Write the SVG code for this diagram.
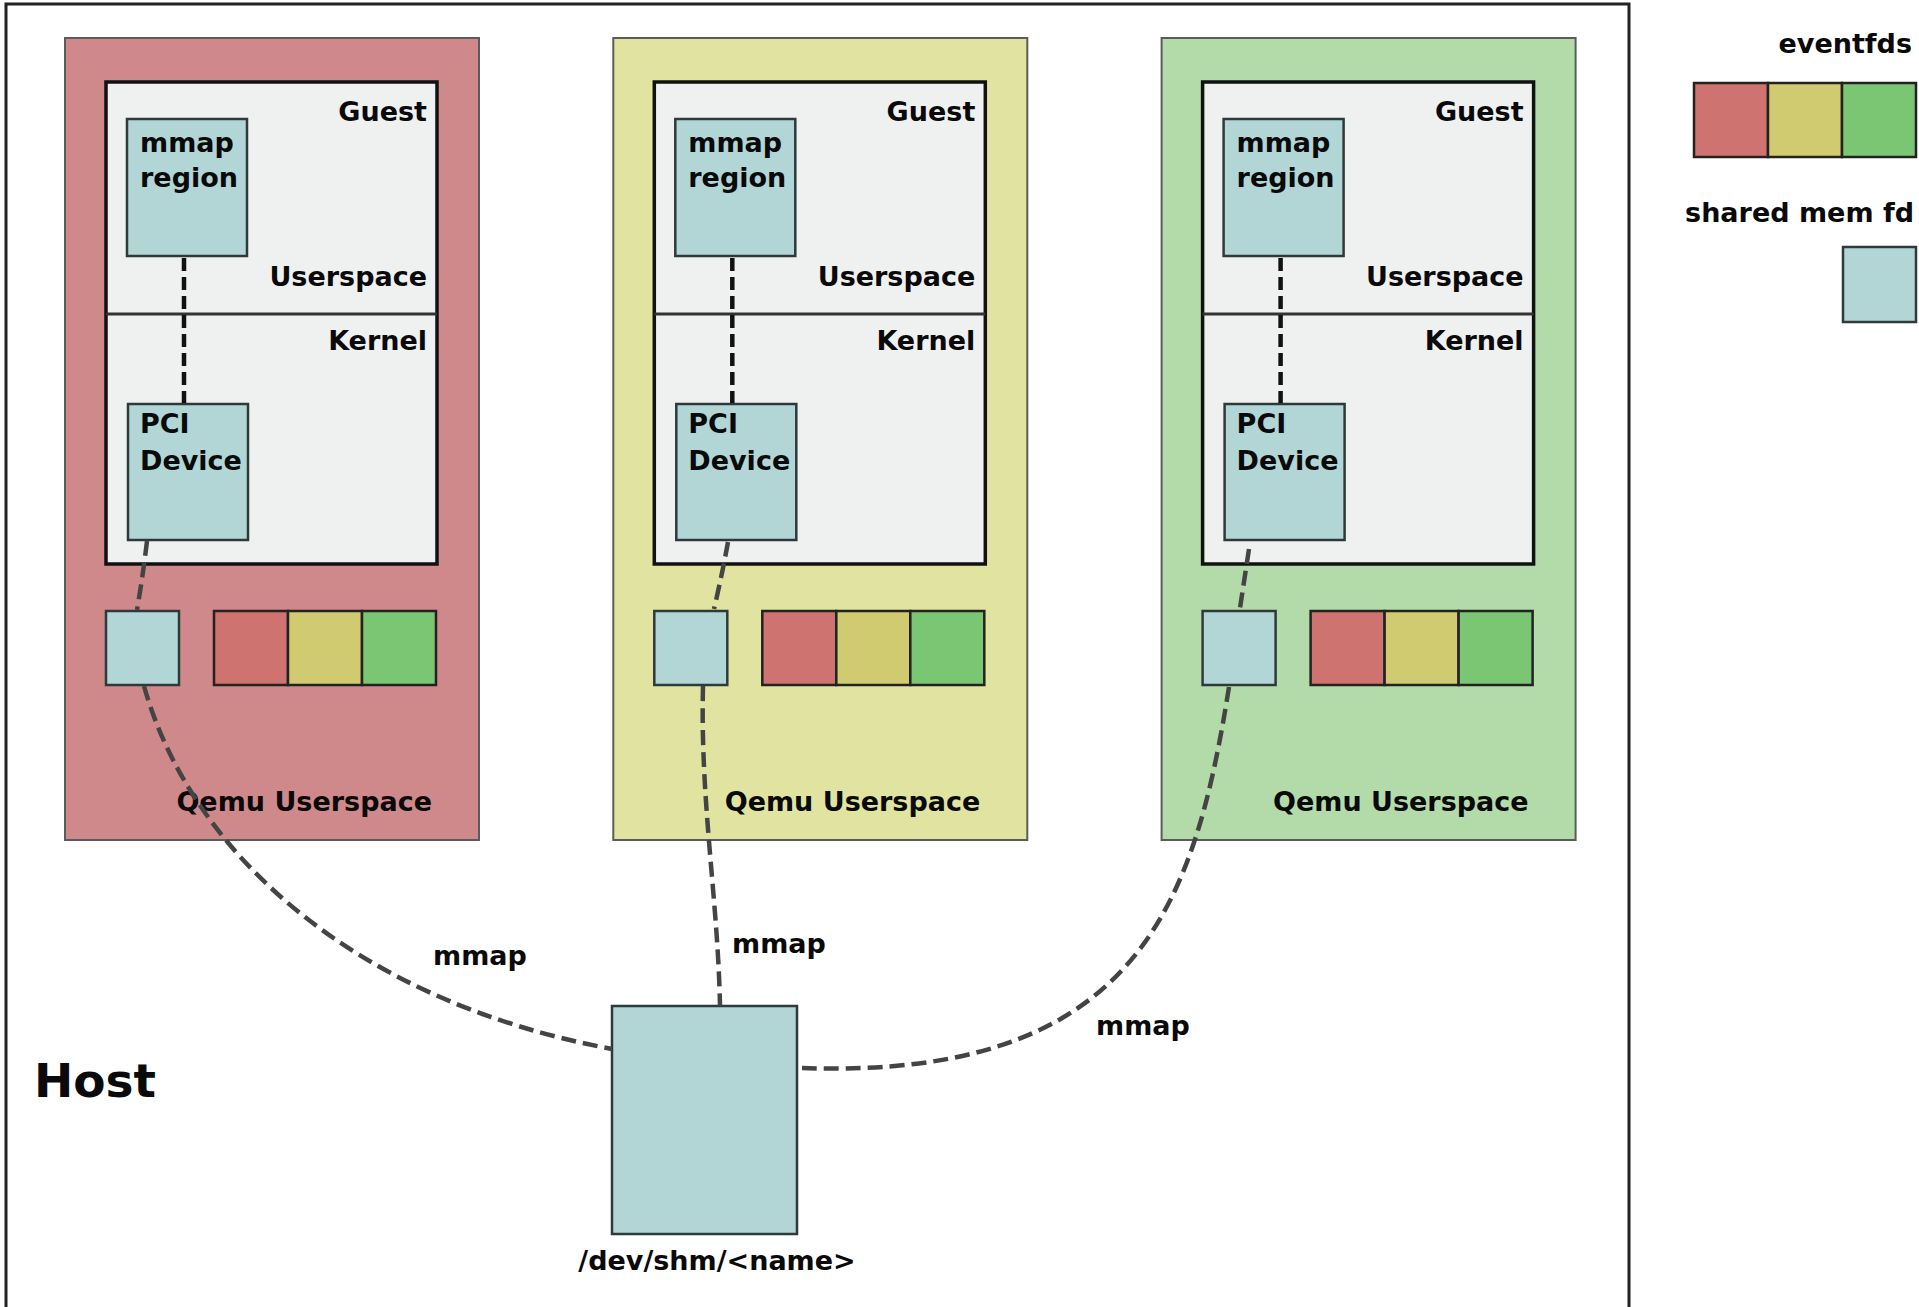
<svg xmlns="http://www.w3.org/2000/svg" width="1919" height="1307" viewBox="0 0 1919 1307">
<style>
text{font-family:"DejaVu Sans","Liberation Sans",sans-serif;font-weight:bold;font-size:27px;fill:#0a0a0a}
.r{text-anchor:end}
.vm{stroke-width:2;stroke:#5b5b5b}
.guest{fill:#eff0f0;stroke:#111;stroke-width:3.5}
.teal{fill:#b2d6d6;stroke:#2e3a3a;stroke-width:2.5}
.er{fill:#cf7370;stroke:#222;stroke-width:2.5}
.ey{fill:#d0cb70;stroke:#222;stroke-width:2.5}
.eg{fill:#7bc673;stroke:#222;stroke-width:2.5}
.dash{fill:none;stroke:#444;stroke-width:4.5;stroke-dasharray:15 7}
.dashk{fill:none;stroke:#111;stroke-width:4.5;stroke-dasharray:13 6}
</style>
<rect width="1919" height="1307" fill="#fff"/>
<g id="host">
<rect x="6" y="4" width="1623" height="1310" fill="#fff" stroke="#222" stroke-width="3"/>
<text x="34" y="1097" style="font-size:47px">Host</text>
</g>
<defs>
<g id="vmcol">
<rect x="65" y="38" width="414" height="802" class="vm"/>
<rect x="106" y="82" width="331" height="482" class="guest"/>
<line x1="106" y1="314" x2="437" y2="314" stroke="#333" stroke-width="3"/>
<text x="427" y="121" class="r">Guest</text>
<text x="427" y="286" class="r">Userspace</text>
<text x="427" y="350" class="r">Kernel</text>
<rect x="127" y="119" width="120" height="137" class="teal"/>
<text x="140" y="152">mmap</text>
<text x="140" y="187">region</text>
<rect x="128" y="404" width="120" height="136" class="teal"/>
<text x="140" y="433">PCI</text>
<text x="140" y="470">Device</text>
<rect x="106" y="611" width="73" height="74" class="teal"/>
<rect x="214" y="611" width="74" height="74" class="er"/>
<rect x="288" y="611" width="74" height="74" class="ey"/>
<rect x="362" y="611" width="74" height="74" class="eg"/>
<text x="432" y="811" class="r">Qemu Userspace</text>
</g>
</defs>
<g id="vm-red"><use href="#vmcol" fill="#d0898a"/></g>
<g id="vm-yellow" transform="translate(548.3,0)"><use href="#vmcol" fill="#e0e4a0"/></g>
<g id="vm-green" transform="translate(1096.6,0)"><use href="#vmcol" fill="#b3dba9"/></g>
<g id="shm">
<rect x="612" y="1006" width="185" height="228" class="teal"/>
<text x="717" y="1270" text-anchor="middle">/dev/shm/&lt;name&gt;</text>
</g>
<g id="legend">
<text x="1912" y="53" class="r">eventfds</text>
<rect x="1694" y="83" width="74" height="74" class="er"/>
<rect x="1768" y="83" width="74" height="74" class="ey"/>
<rect x="1842" y="83" width="74" height="74" class="eg"/>
<text x="1914" y="222" class="r">shared mem fd</text>
<rect x="1843" y="247" width="73" height="75" class="teal"/>
</g>
<g id="connectors">
<path class="dashk" d="M184,258 L184,403"/>
<path class="dashk" d="M732.3,258 L732.3,403"/>
<path class="dashk" d="M1280.6,258 L1280.6,403"/>
<path class="dash" d="M147,541 Q143,575 137,610"/>
<path class="dash" d="M728,542 Q722,575 714,609"/>
<path class="dash" d="M1249,549 L1240,608"/>
<path class="dash" d="M144,686 C190,850 350,1000 612,1049"/>
<path class="dash" d="M703,686 C700,800 718,900 720,1006"/>
<path class="dash" d="M1229,687 C1195,900 1140,1080 802,1068"/>
<text x="433" y="965">mmap</text>
<text x="732" y="953">mmap</text>
<text x="1096" y="1035">mmap</text>
</g>
</svg>
